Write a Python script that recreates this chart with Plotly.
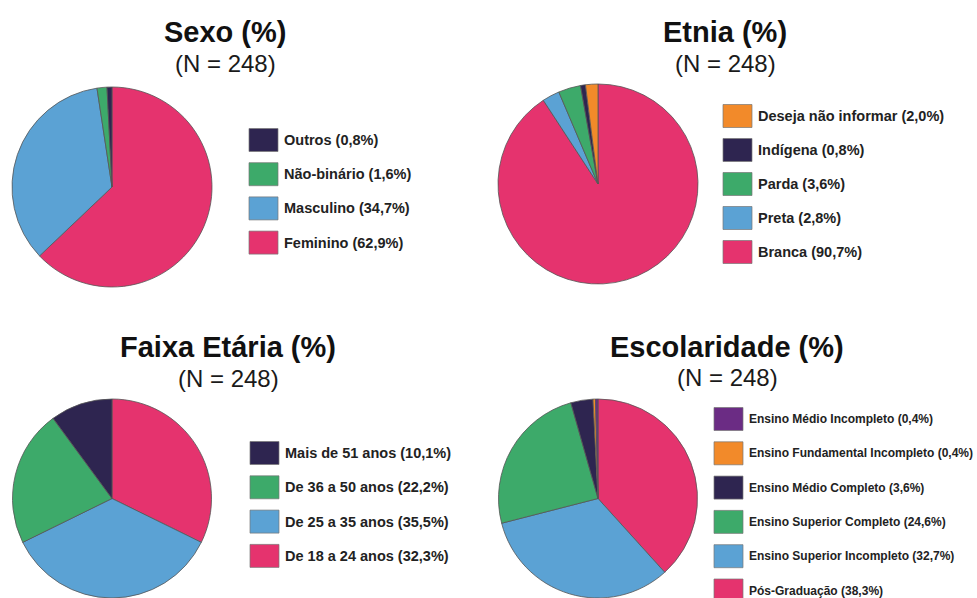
import plotly.graph_objects as go

W, H = 977, 598

# ---- data ----
sexo_labels = ["Feminino", "Masculino", "Não-binário", "Outros"]
sexo_values = [62.9, 34.7, 1.6, 0.8]

etnia_labels = ["Branca", "Preta", "Parda", "Indígena", "Deseja não informar"]
etnia_values = [90.7, 2.8, 3.6, 0.8, 2.0]

faixa_labels = ["De 18 a 24 anos", "De 25 a 35 anos", "De 36 a 50 anos", "Mais de 51 anos"]
faixa_values = [32.3, 35.5, 22.2, 10.1]

escol_labels = ["Pós-Graduação", "Ensino Superior Incompleto", "Ensino Superior Completo",
                "Ensino Médio Completo", "Ensino Fundamental Incompleto", "Ensino Médio Incompleto"]
escol_values = [38.3, 32.7, 24.6, 3.6, 0.4, 0.4]

titles = ["Sexo (%)", "Etnia (%)", "Faixa Etária (%)", "Escolaridade (%)"]
subtitle = "(N = 248)"

# ---- styles ----
PINK, BLUE, GREEN, NAVY, ORANGE, PURPLE = "#E5336E", "#5BA2D4", "#3DAA6A", "#2E2550", "#F28A2A", "#6B2C84"
sexo_colors = [PINK, BLUE, GREEN, NAVY]
etnia_colors = [PINK, BLUE, GREEN, NAVY, ORANGE]
faixa_colors = [PINK, BLUE, GREEN, NAVY]
escol_colors = [PINK, BLUE, GREEN, NAVY, ORANGE, PURPLE]


def px(x):
    return x / W


def py(y):
    return 1 - y / H


panels = [
    # labels, values, colors, pie center, title center x, title y, sub y, legend swatch x, legend first row y, row gap, font size
    (sexo_labels, sexo_values, sexo_colors, (112, 187), 225, 32, 63, 249, 140, 34.2, 14.5),
    (etnia_labels, etnia_values, etnia_colors, (598, 184), 725, 32, 63, 723, 116, 34.0, 14.5),
    (faixa_labels, faixa_values, faixa_colors, (112, 499), 228, 347, 378, 250, 453, 34.3, 14.5),
    (escol_labels, escol_values, escol_colors, (598, 499), 727, 347, 377, 714, 419, 34.3, 12),
]

R = 100
fig = go.Figure()
shapes = []
annotations = []

for i, (labels, values, colors, (cx, cy), tx, ty, sy, lx, ly, gap, fs) in enumerate(panels):
    y0 = max(0.0, py(cy + R))
    y1 = min(1.0, py(cy - R))
    fig.add_trace(go.Pie(
        labels=labels, values=values, sort=False, direction="clockwise", rotation=0,
        marker=dict(colors=colors, line=dict(color="#555555", width=0.8)),
        textinfo="none", hoverinfo="label+value", showlegend=False,
        domain=dict(x=[px(cx - R), px(cx + R)], y=[y0, y1]),
    ))
    annotations.append(dict(text=f"<b>{titles[i]}</b>", x=px(tx), y=py(ty), xref="paper", yref="paper",
                            showarrow=False, xanchor="center", yanchor="middle",
                            font=dict(family="Liberation Sans, Arial, sans-serif", size=29, color="#111111")))
    annotations.append(dict(text=subtitle, x=px(tx), y=py(sy), xref="paper", yref="paper",
                            showarrow=False, xanchor="center", yanchor="middle",
                            font=dict(family="Liberation Sans, Arial, sans-serif", size=24, color="#1a1a1a")))
    # legend (reverse order of slices)
    for k, j in enumerate(reversed(range(len(labels)))):
        yc = ly + k * gap
        shapes.append(dict(type="rect", xref="paper", yref="paper",
                           x0=px(lx), x1=px(lx + 29), y0=py(yc + 11.5), y1=py(yc - 11.5),
                           fillcolor=colors[j], line=dict(color="#777777", width=0.7)))
        txt = f"{labels[j]} ({values[j]:.1f}%)".replace(".", ",")
        annotations.append(dict(text=f"<b>{txt}</b>", x=px(lx + 33), y=py(yc), xref="paper", yref="paper",
                                showarrow=False, xanchor="left", yanchor="middle",
                                font=dict(family="Liberation Sans, Arial, sans-serif", size=fs, color="#222222")))

fig.update_layout(
    width=W, height=H, margin=dict(l=0, r=0, t=0, b=0),
    paper_bgcolor="white", plot_bgcolor="white",
    shapes=shapes, annotations=annotations, showlegend=False,
)

fig.write_html("out.html", config={"displayModeBar": False})
